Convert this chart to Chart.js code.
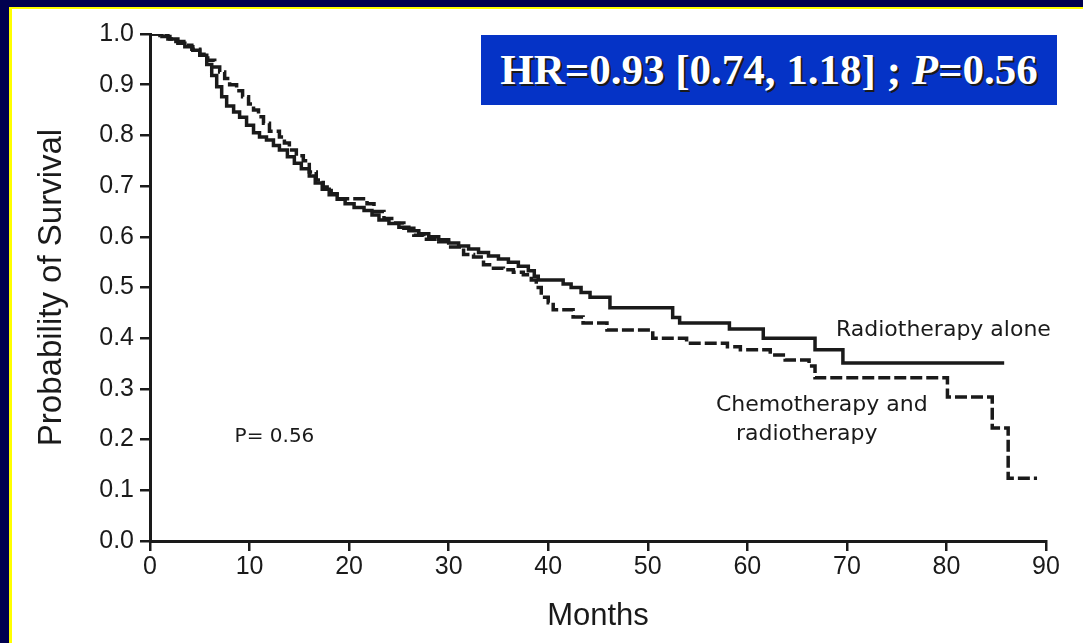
<!DOCTYPE html>
<html>
<head>
<meta charset="utf-8">
<script src="https://cdn.jsdelivr.net/npm/chart.js@4.4.1/dist/chart.umd.min.js"></script>
<style>
  html, body { margin: 0; padding: 0; background: #ffffff; }
  #stage { position: relative; width: 1083px; height: 643px; overflow: hidden; background: #ffffff; }
  #plot { position: absolute; left: 0; top: 0; }
  .edge { position: absolute; }
  #navyTop { left: 0; top: 0; width: 1083px; height: 7px; background: #00004f; }
  #navyLeft { left: 0; top: 0; width: 9px; height: 643px; background: #00004f; }
  #yellowTop { left: 9px; top: 7px; width: 1074px; height: 2px; background: #ffff00; }
  #yellowLeft { left: 9px; top: 7px; width: 3px; height: 636px; background: #ffff00; }
  #hrBox {
    position: absolute; left: 481px; top: 35px; width: 576px; height: 70px;
    background: #0533c6; color: #ffffff;
    font: bold 43px "Liberation Serif", "Times New Roman", serif;
    line-height: 70px; text-align: center; white-space: nowrap;
    text-shadow: 2px 2px 0 #1a1a1a;
  }
</style>
</head>
<body>
<div id="stage">
  <canvas id="plot" width="1083" height="643"></canvas>
  <div class="edge" id="navyTop"></div>
  <div class="edge" id="navyLeft"></div>
  <div class="edge" id="yellowTop"></div>
  <div class="edge" id="yellowLeft"></div>
  <div id="hrBox">HR=0.93 [0.74, 1.18] ; <i>P</i>=0.56</div>
</div>
<script>
// Kaplan-Meier estimates: month of each step and survival after it
const radioMonths = [0, 1.2, 2.0, 2.8, 3.5, 4.3, 5.0, 5.7, 6.2, 6.7,
  7.2, 7.7, 8.4, 9.0, 9.7, 10.4, 11.0, 11.7, 12.4, 13.0,
  13.8, 14.5, 15.2, 16.0, 16.6, 17.3, 18.0, 18.8, 19.6, 20.5,
  21.5, 22.3, 23.0, 24.0, 25.0, 26.0, 27.0, 28.0, 29.0, 30.0,
  31.0, 32.0, 33.0, 34.0, 35.0, 36.0, 37.0, 38.0, 38.6, 39.0,
  41.5, 42.3, 43.3, 44.2, 46.2, 52.5, 53.2, 58.2, 61.6, 66.8,
  69.6, 85.8];
const radioSurvival = [1.0, 0.995, 0.99, 0.982, 0.975, 0.968, 0.958, 0.94, 0.918, 0.896,
  0.876, 0.858, 0.846, 0.836, 0.82, 0.805, 0.797, 0.791, 0.78, 0.771,
  0.758, 0.745, 0.734, 0.72, 0.706, 0.694, 0.683, 0.674, 0.665, 0.658,
  0.652, 0.643, 0.633, 0.626, 0.619, 0.612, 0.606, 0.600, 0.594, 0.588,
  0.582, 0.576, 0.569, 0.562, 0.556, 0.55, 0.542, 0.533, 0.522, 0.515,
  0.507, 0.5, 0.49, 0.481, 0.46, 0.441, 0.43, 0.418, 0.40, 0.377,
  0.351, 0.351];

const chemoMonths = [0, 1.0, 1.8, 2.6, 3.4, 4.2, 5.0, 5.8, 6.5, 7.0,
  7.5, 8.0, 8.7, 9.3, 9.9, 10.4, 10.9, 11.4, 12.0, 13.0,
  13.5, 14.0, 14.7, 15.4, 16.0, 16.7, 17.4, 18.2, 18.8, 21.8,
  22.5, 23.5, 24.5, 25.5, 26.5, 27.5, 29.0, 30.2, 31.5, 32.5,
  33.5, 34.5, 35.5, 36.5, 37.5, 38.3, 38.8, 39.3, 40.0, 40.5,
  42.5, 43.5, 45.9, 50.5, 53.9, 58.0, 59.3, 62.3, 63.8, 66.2,
  66.8, 80.1, 84.6, 86.2, 89.1];
const chemoSurvival = [1.0, 0.997, 0.99, 0.985, 0.978, 0.97, 0.96, 0.948, 0.935, 0.925,
  0.912, 0.9, 0.888, 0.876, 0.862, 0.85, 0.837, 0.824, 0.808, 0.797,
  0.785, 0.771, 0.76, 0.75, 0.728, 0.712, 0.698, 0.685, 0.675, 0.665,
  0.65, 0.636, 0.627, 0.617, 0.603, 0.595, 0.59, 0.58, 0.565, 0.56,
  0.545, 0.538, 0.535, 0.53, 0.525, 0.515, 0.5, 0.481, 0.47, 0.456,
  0.442, 0.43, 0.416, 0.40, 0.39, 0.383, 0.377, 0.367, 0.357, 0.345,
  0.322, 0.284, 0.223, 0.124, 0.124];

const seriesNames = ['Radiotherapy alone', 'Chemotherapy and radiotherapy'];
const xTicks = [0, 10, 20, 30, 40, 50, 60, 70, 80, 90];
const yTicks = [0, 0.1, 0.2, 0.3, 0.4, 0.5, 0.6, 0.7, 0.8, 0.9, 1.0];

// Curve labels and p-value note, anchored in data units
const noteTexts = ['Radiotherapy alone', 'Chemotherapy and', 'radiotherapy', 'P= 0.56'];
const noteMonths = [68.9, 56.85, 58.85, 8.5];
const noteSurvival = [0.416, 0.268, 0.211, 0.205];

const ink = '#1a1a1a';
const NOTE_FONT = '"DejaVu Sans", "Liberation Sans", sans-serif';
const AXIS_FONT = '"Liberation Sans", Arial, Helvetica, sans-serif';

const toPoints = (xs, ys) => xs.map((x, i) => ({ x: x, y: ys[i] }));

const notesPlugin = {
  id: 'notes',
  afterDatasetsDraw(chart) {
    const { ctx, scales } = chart;
    ctx.save();
    ctx.fillStyle = ink;
    ctx.textBaseline = 'middle';
    ctx.textAlign = 'left';
    noteTexts.forEach((t, i) => {
      ctx.font = (i === 3 ? '20px ' : '22px ') + NOTE_FONT;
      ctx.fillText(t, scales.x.getPixelForValue(noteMonths[i]), scales.y.getPixelForValue(noteSurvival[i]));
    });
    ctx.restore();
  }
};

new Chart(document.getElementById('plot'), {
  type: 'line',
  data: {
    datasets: [
      {
        label: seriesNames[0],
        data: toPoints(radioMonths, radioSurvival),
        borderColor: ink,
        borderWidth: 3.5,
        stepped: true,
        pointRadius: 0,
        fill: false
      },
      {
        label: seriesNames[1],
        data: toPoints(chemoMonths, chemoSurvival),
        borderColor: ink,
        borderWidth: 3.5,
        borderDash: [12, 4],
        stepped: true,
        pointRadius: 0,
        fill: false
      }
    ]
  },
  options: {
    responsive: false,
    animation: false,
    layout: { padding: { left: 0, top: 34, right: 37, bottom: 0 } },
    plugins: { legend: { display: false }, tooltip: { enabled: false } },
    scales: {
      x: {
        type: 'linear',
        min: 0, max: 90,
        afterFit(s) { s.height = 102; },
        afterBuildTicks(s) { s.ticks = xTicks.map(v => ({ value: v })); },
        grid: { drawOnChartArea: false, drawTicks: true, tickLength: 10, color: ink, lineWidth: 2.5 },
        border: { display: true, color: ink, width: 3 },
        ticks: { color: ink, font: { family: AXIS_FONT, size: 25 }, padding: 1, maxRotation: 0 },
        title: { display: true, text: 'Months', color: ink, font: { family: AXIS_FONT, size: 31 }, padding: { bottom: 8 } }
      },
      y: {
        type: 'linear',
        min: 0, max: 1,
        afterFit(s) { s.width = 150; },
        afterBuildTicks(s) { s.ticks = yTicks.map(v => ({ value: v })); },
        grid: { drawOnChartArea: false, drawTicks: true, tickLength: 10, color: ink, lineWidth: 2.5 },
        border: { display: true, color: ink, width: 3 },
        ticks: { color: ink, font: { family: AXIS_FONT, size: 25 }, padding: 6, callback: v => v.toFixed(1) },
        title: { display: true, text: 'Probability of Survival', color: ink, font: { family: AXIS_FONT, size: 33 }, padding: { top: 32 } }
      }
    }
  },
  plugins: [notesPlugin]
});
</script>
</body>
</html>
